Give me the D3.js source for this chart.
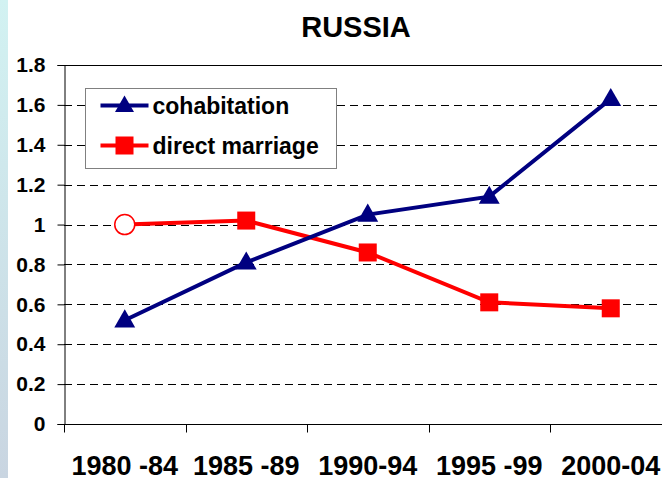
<!DOCTYPE html>
<html>
<head>
<meta charset="utf-8">
<script src="https://cdn.jsdelivr.net/npm/d3@7"></script>
<style>
  html, body { margin: 0; padding: 0; background: #fff; }
  svg { display: block; font-family: Arial, "Liberation Sans", sans-serif; }
</style>
</head>
<body>
<svg id="chart" width="662" height="478"></svg>
<script>
// Russia: cohabitation vs direct marriage, relative rates by period

const periods = ['1980 -84', '1985 -89', '1990-94', '1995 -99', '2000-04'];
const cohabitation = [0.52, 0.81, 1.05, 1.14, 1.63];
const directMarriage = [1.0, 1.02, 0.86, 0.61, 0.58];
const yTicks = [0, 0.2, 0.4, 0.6, 0.8, 1, 1.2, 1.4, 1.6, 1.8];

const NAVY = '#000080', RED = '#ff0000';
const W = 662, H = 478;
const m = { left: 64, top: 65, bottom: 424 };
const plotRight = m.left + 5 * 121.5; // runs past the window edge

const svg = d3.select('#chart');

// pale strip down the left edge
const grad = svg.append('defs').append('linearGradient')
  .attr('id', 'strip').attr('x1', 0).attr('y1', 0).attr('x2', 0).attr('y2', 1);
grad.append('stop').attr('offset', '0%').attr('stop-color', '#d2f2f2');
grad.append('stop').attr('offset', '100%').attr('stop-color', '#c9d5e1');
svg.append('rect').attr('x', 0).attr('y', 0).attr('width', 8).attr('height', H).attr('fill', 'url(#strip)');

const x = d3.scaleBand().domain(periods).range([m.left, plotRight]);
const y = d3.scaleLinear().domain([0, 1.8]).range([m.bottom, m.top]);
const cx = d => x(d) + x.bandwidth() / 2;

svg.append('text')
  .attr('x', 356).attr('y', 37)
  .attr('text-anchor', 'middle')
  .attr('font-size', 29).attr('font-weight', 'bold')
  .text('RUSSIA');

// dashed gridlines
svg.append('g').selectAll('line').data(yTicks.filter(v => v > 0 && v < 1.8)).join('line')
  .attr('x1', m.left).attr('x2', plotRight)
  .attr('y1', d => Math.round(y(d)) + 0.5).attr('y2', d => Math.round(y(d)) + 0.5)
  .attr('stroke', '#000').attr('stroke-width', 1).attr('stroke-dasharray', '8,5');

// top border of plot area
svg.append('line')
  .attr('x1', m.left).attr('x2', plotRight)
  .attr('y1', Math.round(y(1.8)) + 0.5).attr('y2', Math.round(y(1.8)) + 0.5)
  .attr('stroke', '#000');

// y axis
const yAxis = svg.append('g')
  .attr('transform', `translate(${m.left + 0.5},0)`)
  .call(d3.axisLeft(y).tickValues(yTicks).tickSize(7).tickPadding(12)
    .tickFormat(d => d === 0 || d === 1 ? String(d) : d3.format('.1f')(d)));
yAxis.select('.domain').attr('stroke', '#000');
yAxis.selectAll('text').attr('font-size', 21).attr('font-weight', 'bold')
  .attr('font-family', 'Arial, "Liberation Sans", sans-serif').attr('fill', '#000');

// x axis, ticks on band boundaries
const xAxis = svg.append('g').attr('transform', `translate(0,${m.bottom + 0.5})`);
xAxis.append('line').attr('x1', m.left).attr('x2', plotRight).attr('stroke', '#000');
xAxis.selectAll('line.tk').data(periods).join('line').attr('class', 'tk')
  .attr('x1', d => Math.round(x(d)) + 0.5).attr('x2', d => Math.round(x(d)) + 0.5)
  .attr('y1', 0).attr('y2', 8).attr('stroke', '#000');
xAxis.selectAll('text').data(periods).join('text')
  .attr('x', cx).attr('y', 50)
  .attr('text-anchor', 'middle')
  .attr('font-size', 27).attr('font-weight', 'bold')
  .text(d => d);

const line = d3.line().x((d, i) => cx(periods[i])).y(d => y(d));

function triangle(g, px, py, s) {
  g.append('path')
    .attr('d', `M${px},${py - s}L${px + s * 0.95},${py + s * 0.65}L${px - s * 0.95},${py + s * 0.65}Z`)
    .attr('fill', NAVY);
}

// direct marriage
svg.append('path').datum(directMarriage)
  .attr('d', line).attr('fill', 'none').attr('stroke', RED).attr('stroke-width', 4);
svg.append('g').selectAll('rect').data(directMarriage.slice(1)).join('rect')
  .attr('x', (d, i) => cx(periods[i + 1]) - 9).attr('y', d => y(d) - 9)
  .attr('width', 18).attr('height', 18).attr('fill', RED);
svg.append('circle')
  .attr('cx', cx(periods[0])).attr('cy', y(directMarriage[0])).attr('r', 10)
  .attr('fill', '#fff').attr('stroke', RED).attr('stroke-width', 1.5);

// cohabitation
svg.append('path').datum(cohabitation)
  .attr('d', line).attr('fill', 'none').attr('stroke', NAVY).attr('stroke-width', 4);
const tri = svg.append('g');
cohabitation.forEach((v, i) => triangle(tri, cx(periods[i]), y(v), 11));

// legend
const lg = svg.append('g').attr('transform', 'translate(85.5,88.5)');
lg.append('rect').attr('width', 251).attr('height', 80)
  .attr('fill', '#fff').attr('stroke', '#808080').attr('stroke-width', 1);
const items = [
  { name: 'cohabitation', color: NAVY, marker: 'tri', yy: 17 },
  { name: 'direct marriage', color: RED, marker: 'sq', yy: 57 }
];
items.forEach(it => {
  lg.append('line').attr('x1', 15).attr('x2', 63).attr('y1', it.yy).attr('y2', it.yy)
    .attr('stroke', it.color).attr('stroke-width', 4);
  if (it.marker === 'tri') triangle(lg, 39, it.yy, 10);
  else lg.append('rect').attr('x', 30).attr('y', it.yy - 9).attr('width', 18).attr('height', 18).attr('fill', it.color);
  lg.append('text').attr('x', 67).attr('y', it.yy + 8)
    .attr('font-size', 23).attr('font-weight', 'bold').text(it.name);
});
</script>
</body>
</html>
